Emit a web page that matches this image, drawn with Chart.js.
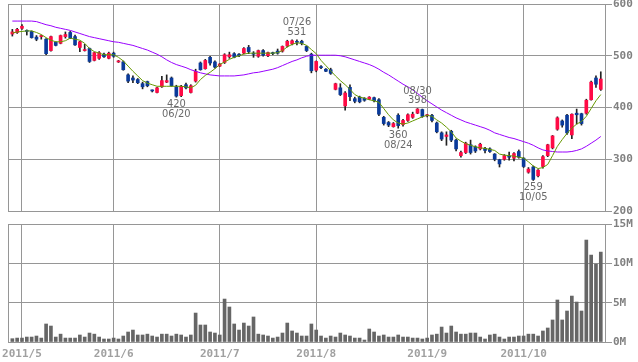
<!DOCTYPE html>
<html>
<head>
<meta charset="utf-8">
<script src="https://cdn.jsdelivr.net/npm/chart.js@4.4.0/dist/chart.umd.min.js"></script>
<style>
  html, body { margin: 0; padding: 0; background: #fff; }
  #wrap { position: relative; width: 638px; height: 362px; }
  #priceBox { position: absolute; left: 0; top: 0; width: 638px; height: 216px; }
  #volBox { position: absolute; left: 0; top: 216px; width: 638px; height: 146px; }
</style>
</head>
<body>
<div id="wrap">
  <div id="priceBox"><canvas id="priceChart"></canvas></div>
  <div id="volBox"><canvas id="volumeChart"></canvas></div>
</div>
<script>
// ===== DATA (2011, daily) =====
const dates = [
  '04/27','04/28',
  '05/02','05/06','05/09','05/10','05/11','05/12','05/13','05/16','05/17','05/18','05/19','05/20','05/23','05/24','05/25','05/26','05/27','05/30','05/31',
  '06/01','06/02','06/03','06/06','06/07','06/08','06/09','06/10','06/13','06/14','06/15','06/16','06/17','06/20','06/21','06/22','06/23','06/24','06/27','06/28','06/29','06/30',
  '07/01','07/04','07/05','07/06','07/07','07/08','07/11','07/12','07/13','07/14','07/15','07/19','07/20','07/21','07/22','07/25','07/26','07/27','07/28','07/29',
  '08/01','08/02','08/03','08/04','08/05','08/08','08/09','08/10','08/11','08/12','08/15','08/16','08/17','08/18','08/19','08/22','08/23','08/24','08/25','08/26','08/29','08/30','08/31',
  '09/01','09/02','09/05','09/06','09/07','09/08','09/09','09/12','09/13','09/14','09/15','09/16','09/20','09/21','09/22','09/26','09/27','09/28','09/29','09/30',
  '10/03','10/04','10/05','10/06','10/07','10/11','10/12','10/13','10/14','10/17','10/18','10/19','10/20','10/21','10/24','10/25','10/26'
];

const open = [
  542,545,
  553,549,547,536,537,532,510,526,524,537,545,537,516,510,514,491,495,503,495,
  505,488,488,463,457,454,446,450,434,429,440,449,457,440,423,444,429,451,486,475,497,488,
  480,487,498,504,503,505,516,504,499,510,500,506,509,509,519,523,527,528,518,503,
  472,479,474,473,435,438,403,439,417,420,418,416,419,415,381,371,363,385,367,375,381,389,396,
  384,385,370,351,344,354,337,307,313,328,324,320,321,320,310,299,300,306,302,315,
  302,275,285,268,286,307,322,358,374,385,347,389,388,389,415,457,435
];
const high = [
  551,553,
  560,550,548,539,540,533,538,527,540,546,547,540,528,522,515,507,508,505,507,
  507,491,490,465,461,456,449,451,434,439,460,463,459,443,443,447,444,474,488,493,499,490,
  485,504,507,506,504,516,520,508,511,512,507,507,513,519,530,531,531,530,519,505,
  490,481,475,476,447,446,431,444,420,422,419,421,420,417,383,373,371,388,377,388,391,398,397,
  387,387,372,353,353,356,339,316,333,337,326,331,323,322,311,300,309,314,313,318,
  303,284,287,280,307,329,346,382,376,387,388,397,389,416,451,461,469
];
const low = [
  538,543,
  551,540,534,529,532,502,509,519,523,534,533,520,508,509,487,490,493,497,494,
  497,487,472,448,448,446,436,440,430,428,439,448,441,420,421,436,428,449,472,474,482,476,
  479,485,495,496,498,504,504,497,497,499,498,502,503,507,517,521,521,521,508,467,
  469,475,469,464,434,423,395,413,409,409,412,415,411,384,366,363,362,360,364,373,379,388,381,
  382,372,351,336,327,334,316,304,311,310,313,318,312,313,297,285,298,298,297,302,
  284,273,259,266,283,305,320,356,362,348,340,368,366,387,414,439,433
];
const close = [
  546,551,
  557,547,535,532,539,504,537,520,539,541,534,521,527,512,489,506,506,498,505,
  499,490,473,451,453,448,440,442,432,438,452,452,442,422,441,438,442,470,473,491,486,478,
  484,502,502,497,500,514,508,503,510,501,506,504,505,518,528,529,526,524,510,471,
  489,477,470,466,446,425,428,421,412,411,414,420,413,387,369,366,369,365,375,386,387,397,383,
  386,375,353,339,347,337,320,313,331,313,316,329,317,315,300,291,307,304,311,304,
  286,281,261,279,305,328,345,380,366,351,387,386,369,414,449,445,455
];
// short moving average (olive) and long moving average (purple)
const maShort = [
  544,546,
  547,548,548,545,541,535,530,527,527,529,534,532,530,524,514,508,505,502,502,
  502,497,490,480,470,461,452,447,444,441,441,441,441,441,441,440,438,443,454,462,468,475,
  483,488,493,497,500,503,505,505,505,505,505,505,506,510,517,522,525,524,520,512,
  504,491,481,471,461,452,444,435,425,420,418,415,413,410,398,386,376,370,368,370,374,378,382,
  385,383,376,370,362,353,341,335,330,327,324,322,321,319,317,310,308,307,306,304,
  302,295,287,282,284,290,307,325,338,350,360,368,373,383,398,413,425
];
const maLong = [
  567,567,
  567,567,567,566,563,560,558,555,553,551,549,546,543,540,537,535,533,531,529,
  527,526,524,522,520,517,514,511,507,503,498,492,487,483,480,477,473,470,467,465,463,462,
  461,461,461,461,462,463,465,467,468,470,472,474,477,481,485,489,492,496,499,501,
  501,501,501,501,501,500,498,495,492,489,486,483,479,474,468,463,457,451,445,440,434,427,420,
  413,407,401,395,390,385,380,376,372,369,366,363,360,356,351,348,345,342,340,337,
  334,331,327,322,318,316,315,314,314,314,315,317,320,325,331,337,344
];
// volume in millions
const volume = [
  0.42,0.5,
  0.5,0.63,0.63,0.76,0.5,2.29,2.03,0.63,1.0,0.5,0.5,0.5,0.89,0.63,1.14,1.0,0.63,0.38,0.38,
  0.5,0.38,0.76,1.27,1.52,0.89,0.89,1.0,0.76,0.63,1.0,1.0,0.76,1.0,0.89,0.63,0.89,3.68,2.16,2.16,1.27,1.14,
  0.89,5.46,4.45,2.29,1.52,2.41,2.03,3.18,1.0,0.89,0.76,0.5,0.63,1.14,2.41,1.4,1.14,0.76,0.76,2.29,
  1.52,0.76,0.5,0.76,0.63,1.14,0.89,0.76,0.5,0.5,0.25,1.65,1.27,0.76,0.89,0.63,0.63,0.89,0.63,0.63,0.5,0.5,0.38,
  0.5,0.89,1.0,1.9,1.14,2.03,1.27,1.0,1.0,1.14,1.14,0.63,0.38,0.89,1.0,0.63,0.38,0.63,0.63,0.76,
  0.76,1.0,1.0,0.76,1.4,1.78,2.8,5.34,2.8,3.94,5.84,5.08,3.94,12.96,11.05,9.91,11.43
];

const priceTicks = [200, 300, 400, 500, 600];
const volumeTicks = [0, 5, 10, 15];

// marked highs / lows
const notes = [
  { date: '06/20', value: 420, pos: 'below' },
  { date: '07/26', value: 531, pos: 'above' },
  { date: '08/24', value: 360, pos: 'below' },
  { date: '08/30', value: 398, pos: 'above' },
  { date: '10/05', value: 259, pos: 'below' }
];

// month gridlines sit on the first trading day of each month
const monthIdx = [];
const monthLabels = [];
dates.forEach((d, i) => {
  if (i > 0 && d.slice(0, 2) !== dates[i - 1].slice(0, 2)) {
    monthIdx.push(i);
    monthLabels.push('2011/' + Number(d.slice(0, 2)));
  }
});

// ===== STYLE =====
const UP = '#ff0a45';
const DOWN = '#0a3a9a';
const GRID = '#969696';
const AXIS_FONT = { family: 'DejaVu Sans Mono', size: 11, weight: 'bold' };
const X_MIN = -0.9, X_MAX = 123.08;

const framePlugin = {
  id: 'frame',
  beforeDatasetsDraw(chart) {
    const a = chart.chartArea, c = chart.ctx;
    c.save();
    c.strokeStyle = GRID;
    c.lineWidth = 1;
    c.strokeRect(Math.round(a.left) + 0.5, Math.round(a.top) + 0.5,
                 Math.round(a.right - a.left) - 1, Math.round(a.bottom - a.top));
    c.restore();
  }
};

const notePlugin = {
  id: 'notes',
  afterDatasetsDraw(chart) {
    const xs = chart.scales.x, ys = chart.scales.y, c = chart.ctx;
    c.save();
    c.fillStyle = '#6a6a6a';
    c.font = '11px "Liberation Sans Narrow", "DejaVu Sans Condensed", sans-serif';
    c.textAlign = 'center';
    notes.forEach(n => {
      const i = dates.indexOf(n.date);
      const x = xs.getPixelForValue(i);
      const y = ys.getPixelForValue(n.value);
      if (n.pos === 'below') {
        c.textBaseline = 'top';
        c.fillText(String(n.value), x, y + 1.5);
        c.fillText(n.date, x, y + 11);
      } else {
        c.textBaseline = 'bottom';
        c.fillText(String(n.value), x, y - 2.5);
        c.fillText(n.date, x, y - 12);
      }
    });
    c.restore();
  }
};

function monthAxis(showLabels) {
  return {
    type: 'linear',
    min: X_MIN,
    max: X_MAX,
    offset: false,
    afterBuildTicks: s => { s.ticks = monthIdx.map(v => ({ value: v })); },
    afterFit: s => {
      s.height = showLabels ? 20 : 0;
      s.paddingLeft = 0; s.paddingRight = 0;
    },
    grid: { color: GRID, offset: false, drawTicks: false },
    border: { display: false },
    ticks: {
      display: showLabels,
      autoSkip: false,
      maxRotation: 0,
      padding: 6,
      color: '#a0a0a0',
      font: AXIS_FONT,
      callback: v => monthLabels[monthIdx.indexOf(v)]
    }
  };
}

function valueAxis(min, max, tickVals, fmt) {
  return {
    position: 'right',
    min: min,
    max: max,
    afterBuildTicks: s => { s.ticks = tickVals.map(v => ({ value: v })); },
    afterFit: s => { s.width = 32; s.paddingTop = 0; s.paddingBottom = 0; },
    grid: { color: GRID, tickLength: 6 },
    border: { display: false },
    ticks: { color: '#808080', font: AXIS_FONT, padding: 1, callback: fmt }
  };
}

// ===== PRICE CHART =====
function initPriceChart() {
  const ctx = document.getElementById('priceChart');
  new Chart(ctx, {
    type: 'bar',
    data: {
      datasets: [
        {
          type: 'line',
          data: maShort.map((v, i) => ({ x: i, y: v })),
          borderColor: '#669900',
          borderWidth: 1,
          pointRadius: 0,
          order: 0
        },
        {
          type: 'line',
          data: maLong.map((v, i) => ({ x: i, y: v })),
          borderColor: '#9900ff',
          borderWidth: 1,
          pointRadius: 0,
          order: 1
        },
        {
          data: open.map((o, i) => ({ x: i, y: [o, close[i]] })),
          backgroundColor: open.map((o, i) => close[i] >= o ? UP : DOWN),
          barThickness: 3,
          minBarLength: 1,
          grouped: false,
          order: 2
        },
        {
          data: low.map((l, i) => ({ x: i, y: [l, high[i]] })),
          backgroundColor: '#222',
          barThickness: 1,
          grouped: false,
          order: 3
        }
      ]
    },
    options: {
      responsive: true,
      maintainAspectRatio: false,
      animation: false,
      devicePixelRatio: 1,
      layout: { padding: { left: 8, top: 4, right: 0, bottom: 5 } },
      plugins: { legend: { display: false }, tooltip: { enabled: false } },
      scales: {
        x: monthAxis(false),
        y: valueAxis(200, 600, priceTicks, v => String(v))
      }
    },
    plugins: [framePlugin, notePlugin]
  });
}

// ===== VOLUME CHART =====
function initVolumeChart() {
  const ctx = document.getElementById('volumeChart');
  new Chart(ctx, {
    type: 'bar',
    data: {
      datasets: [{
        data: volume.map((v, i) => ({ x: i, y: v })),
        backgroundColor: '#666',
        barThickness: 3,
        grouped: false
      }]
    },
    options: {
      responsive: true,
      maintainAspectRatio: false,
      animation: false,
      devicePixelRatio: 1,
      layout: { padding: { left: 8, top: 8, right: 0, bottom: 0 } },
      plugins: { legend: { display: false }, tooltip: { enabled: false } },
      scales: {
        x: monthAxis(true),
        y: valueAxis(0, 15, volumeTicks, v => v + 'M')
      }
    },
    plugins: [framePlugin]
  });
}

initPriceChart();
initVolumeChart();
</script>
</body>
</html>
